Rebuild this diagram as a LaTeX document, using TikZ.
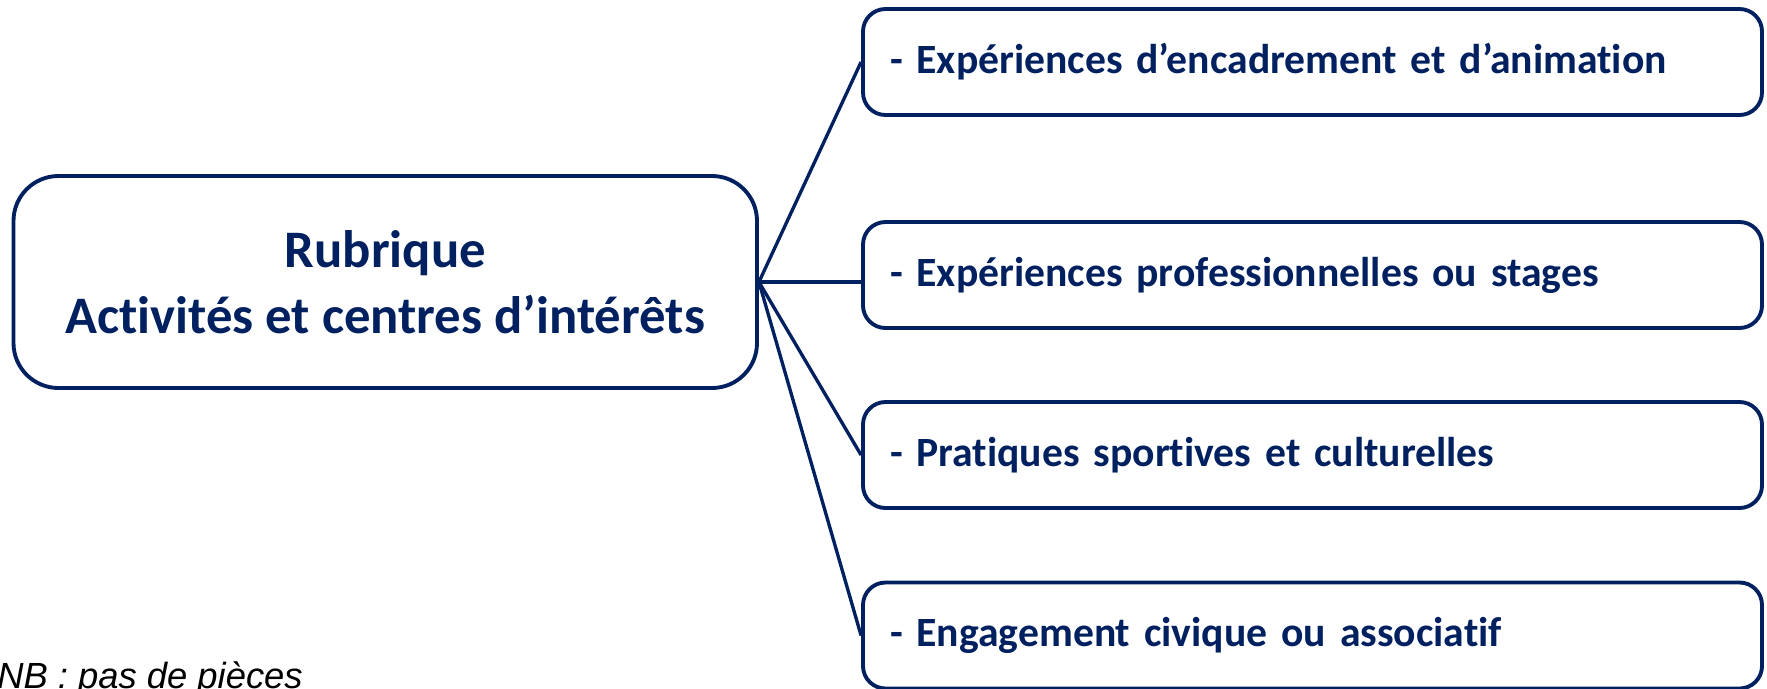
\documentclass[tikz,border=0pt]{standalone}
\usepackage{fontspec}
\setmainfont{Carlito}[Ligatures=NoCommon]
\newfontfamily\nbfont{Liberation Sans}
\usetikzlibrary{positioning}
\definecolor{bleufonce}{HTML}{002060}
\tikzset{
  rubrique/.style={draw=bleufonce, line width=2.2pt, rounded corners=0.9cm,
    minimum width=14.87cm, minimum height=4.24cm, align=center, text=bleufonce,
    font=\bfseries\fontsize{30}{37.5}\selectfont},
  item/.style={draw=bleufonce, line width=2.2pt, rounded corners=0.45cm,
    text width=16.9cm, inner xsep=0.54cm, minimum height=2.12cm, align=left,
    text=bleufonce, font=\bfseries\fontsize{23.7}{29}\selectfont},
  lien/.style={draw=bleufonce, line width=1.9pt}
}
\begin{document}
\begin{tikzpicture}
    \useasboundingbox (0,0) rectangle (35.34,-13.76);
    \clip (0,0) rectangle (35.34,-13.76);
    %rubrique
    \node[rubrique] (rub) at (7.705,-5.64) {Rubrique\\Activités et centres d’intérêts};
    %activites
    \node[item] (enc) at (26.25,-1.24) {- Expériences d’encadrement et d’animation};
    \node[item] (pro) at (26.25,-5.5) {- Expériences professionnelles ou stages};
    \node[item] (spo) at (26.25,-9.1) {- Pratiques sportives et culturelles};
    \node[item] (eng) at (26.25,-12.71) {- Engagement civique ou associatif};
    %liens
    \draw[lien] (rub.east) -- (enc.west);
    \draw[lien] (rub.east) -- (rub.east -| pro.west);
    \draw[lien] (rub.east) -- (spo.west);
    \draw[lien] (rub.east) -- (eng.west);
    \node[anchor=base west, inner sep=0, font=\nbfont\itshape\fontsize{20.7}{24}\selectfont] (nb) at (-0.06,-13.76) {NB : pas de pièces};
\end{tikzpicture}
\end{document}
